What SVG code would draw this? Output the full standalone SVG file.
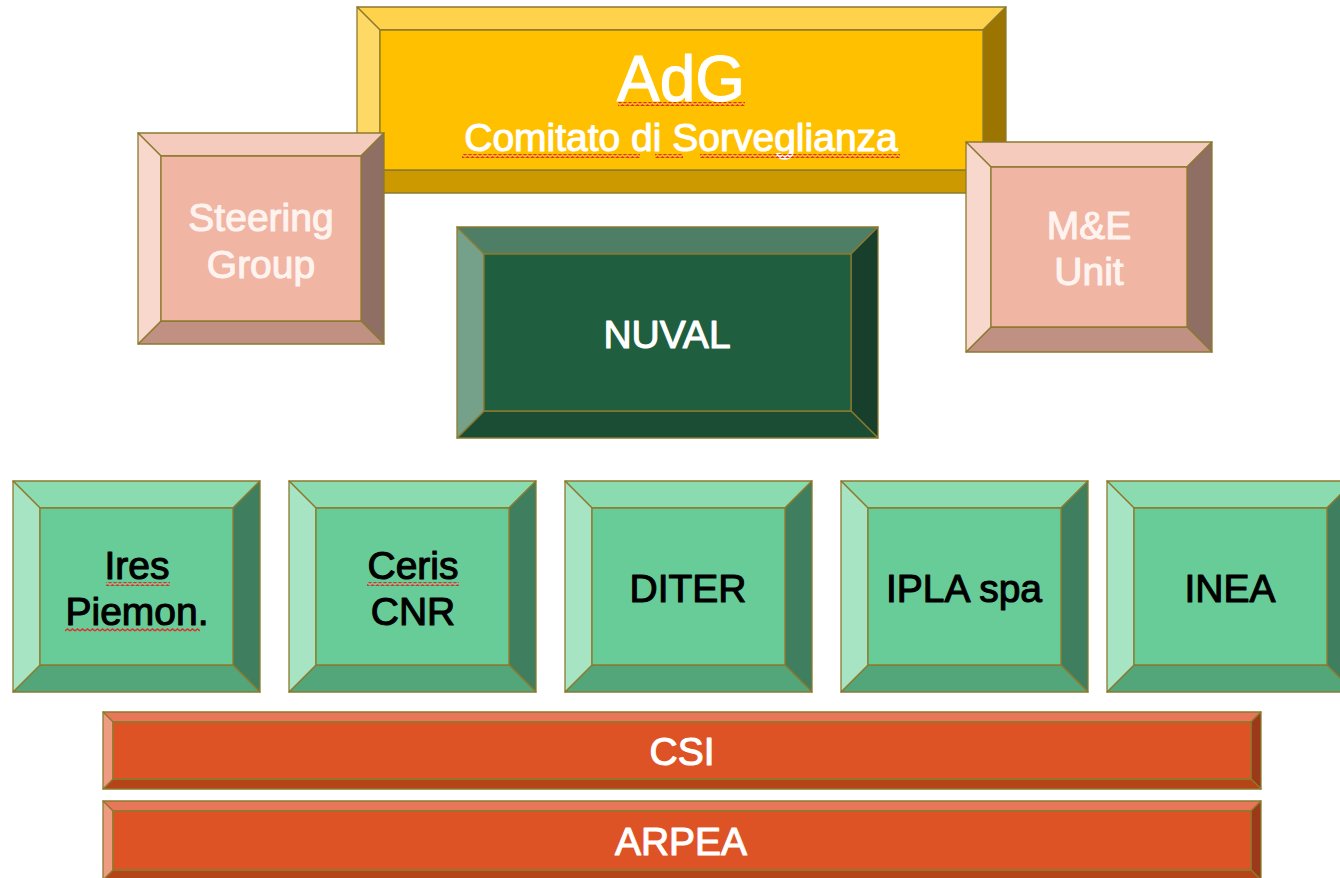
<svg xmlns="http://www.w3.org/2000/svg" width="1340" height="878" viewBox="0 0 1340 878">
<style>
  polygon, rect.c { stroke:#8C7A2E; stroke-width:1.3; stroke-linejoin:round; }
  .gold .t{fill:#FFD24C}.gold .l{fill:#FFD966}.gold .c{fill:#FFC000}.gold .r{fill:#9C7400}.gold .b{fill:#CC9900}
  .pink .t{fill:#F5CBBD}.pink .l{fill:#F8D7CC}.pink .c{fill:#F0B5A3}.pink .r{fill:#8F6F64}.pink .b{fill:#C09083}
  .dkg .t{fill:#4E7F66}.dkg .l{fill:#75A08A}.dkg .c{fill:#1F5F40}.dkg .r{fill:#173F2C}.dkg .b{fill:#1A4D34}
  .ltg .t{fill:#8ADBB0}.ltg .l{fill:#A6E4C3}.ltg .c{fill:#68CC98}.ltg .r{fill:#3F7E5E}.ltg .b{fill:#52A679}
  .org .t{fill:#E8775A}.org .l{fill:#EF9B82}.org .c{fill:#DE5326}.org .r{fill:#9A3A18}.org .b{fill:#B54419}
  text { font-family:"Liberation Sans", Arial, sans-serif; font-size:39px; text-anchor:middle; stroke-width:1.1px; stroke-linejoin:round; }
  .w { fill:#FFFFFF; stroke:#FFFFFF; }
  .pw { fill:#FFF3EF; stroke:#FFF3EF; }
  .k { fill:#000000; stroke:#000000; }
  .sq { fill:url(#sq); }
</style>
<defs>
  <pattern id="sq" x="0" y="0" width="5" height="4" patternUnits="userSpaceOnUse">
    <path d="M0 3 L2.5 1 L5 3" fill="none" stroke="#E0302E" stroke-width="1.5"/>
  </pattern>
</defs>
<rect width="1340" height="878" fill="#FFFFFF"/>

<g id="adg" class="gold">
  <polygon class="t" points="357,7 1006,7 983,30 380,30"/>
  <polygon class="r" points="1006,7 1006,193 983,170 983,30"/>
  <polygon class="b" points="1006,193 357,193 380,170 983,170"/>
  <polygon class="l" points="357,193 357,7 380,30 380,170"/>
  <rect class="c" x="380" y="30" width="603" height="140"/>
  <text class="w" x="681" y="101" style="font-size:64px">AdG</text>
  <text class="w" x="681" y="151" style="font-size:39px">Comitato di Sorveglianza</text>
  <rect class="sq" x="618" y="102" width="127" height="4"/>
  <rect class="sq" x="462" y="154" width="178" height="4"/>
  <rect class="sq" x="655" y="154" width="28" height="4"/>
  <rect class="sq" x="700" y="154" width="200" height="4"/>
</g>

<g id="steering" class="pink">
  <polygon class="t" points="138,133 384,133 361,156 161,156"/>
  <polygon class="r" points="384,133 384,344 361,321 361,156"/>
  <polygon class="b" points="384,344 138,344 161,321 361,321"/>
  <polygon class="l" points="138,344 138,133 161,156 161,321"/>
  <rect class="c" x="161" y="156" width="200" height="165"/>
  <text class="pw" x="261" y="231">Steering</text>
  <text class="pw" x="261" y="278">Group</text>
</g>

<g id="me" class="pink">
  <polygon class="t" points="966,142 1212,142 1187,167 991,167"/>
  <polygon class="r" points="1212,142 1212,352 1187,327 1187,167"/>
  <polygon class="b" points="1212,352 966,352 991,327 1187,327"/>
  <polygon class="l" points="966,352 966,142 991,167 991,327"/>
  <rect class="c" x="991" y="167" width="196" height="160"/>
  <text class="pw" x="1089" y="239">M&amp;E</text>
  <text class="pw" x="1089" y="285">Unit</text>
</g>

<g id="nuval" class="dkg">
  <polygon class="t" points="457,227 878,227 851,254 484,254"/>
  <polygon class="r" points="878,227 878,438 851,411 851,254"/>
  <polygon class="b" points="878,438 457,438 484,411 851,411"/>
  <polygon class="l" points="457,438 457,227 484,254 484,411"/>
  <rect class="c" x="484" y="254" width="367" height="157"/>
  <text class="w" x="667" y="348">NUVAL</text>
</g>

<g id="ires" class="ltg">
  <polygon class="t" points="13,481 260,481 233,508 40,508"/>
  <polygon class="r" points="260,481 260,692 233,665 233,508"/>
  <polygon class="b" points="260,692 13,692 40,665 233,665"/>
  <polygon class="l" points="13,692 13,481 40,508 40,665"/>
  <rect class="c" x="40" y="508" width="193" height="157"/>
  <text class="k" x="137" y="579">Ires</text>
  <text class="k" x="137" y="625">Piemon.</text>
  <rect class="sq" x="106" y="582" width="64" height="4"/>
  <rect class="sq" x="65" y="628" width="135" height="4"/>
</g>

<g id="ceris" class="ltg">
  <polygon class="t" points="289,481 536,481 509,508 316,508"/>
  <polygon class="r" points="536,481 536,692 509,665 509,508"/>
  <polygon class="b" points="536,692 289,692 316,665 509,665"/>
  <polygon class="l" points="289,692 289,481 316,508 316,665"/>
  <rect class="c" x="316" y="508" width="193" height="157"/>
  <text class="k" x="413" y="579">Ceris</text>
  <text class="k" x="413" y="625">CNR</text>
  <rect class="sq" x="367" y="582" width="92" height="4"/>
</g>

<g id="diter" class="ltg">
  <polygon class="t" points="565,481 812,481 785,508 592,508"/>
  <polygon class="r" points="812,481 812,692 785,665 785,508"/>
  <polygon class="b" points="812,692 565,692 592,665 785,665"/>
  <polygon class="l" points="565,692 565,481 592,508 592,665"/>
  <rect class="c" x="592" y="508" width="193" height="157"/>
  <text class="k" x="688" y="602">DITER</text>
</g>

<g id="ipla" class="ltg">
  <polygon class="t" points="841,481 1088,481 1061,508 868,508"/>
  <polygon class="r" points="1088,481 1088,692 1061,665 1061,508"/>
  <polygon class="b" points="1088,692 841,692 868,665 1061,665"/>
  <polygon class="l" points="841,692 841,481 868,508 868,665"/>
  <rect class="c" x="868" y="508" width="193" height="157"/>
  <text class="k" x="964" y="602">IPLA spa</text>
</g>

<g id="inea" class="ltg">
  <polygon class="t" points="1107,481 1354,481 1327,508 1134,508"/>
  <polygon class="r" points="1354,481 1354,692 1327,665 1327,508"/>
  <polygon class="b" points="1354,692 1107,692 1134,665 1327,665"/>
  <polygon class="l" points="1107,692 1107,481 1134,508 1134,665"/>
  <rect class="c" x="1134" y="508" width="193" height="157"/>
  <text class="k" x="1230" y="602">INEA</text>
</g>

<g id="csi" class="org">
  <polygon class="t" points="103,712 1261,712 1251,722 113,722"/>
  <polygon class="r" points="1261,712 1261,789 1251,779 1251,722"/>
  <polygon class="b" points="1261,789 103,789 113,779 1251,779"/>
  <polygon class="l" points="103,789 103,712 113,722 113,779"/>
  <rect class="c" x="113" y="722" width="1138" height="57"/>
  <text class="w" x="682" y="765">CSI</text>
</g>

<g id="arpea" class="org">
  <polygon class="t" points="103,801 1261,801 1251,811 113,811"/>
  <polygon class="r" points="1261,801 1261,880 1251,870 1251,811"/>
  <polygon class="b" points="1261,880 103,880 113,870 1251,870"/>
  <polygon class="l" points="103,880 103,801 113,811 113,870"/>
  <rect class="c" x="113" y="811" width="1138" height="59"/>
  <text class="w" x="681" y="855">ARPEA</text>
</g>

<g id="connectors"></g>
</svg>
